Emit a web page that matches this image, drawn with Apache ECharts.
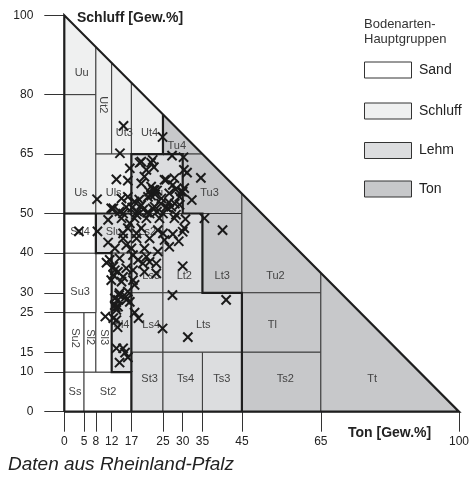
<!DOCTYPE html>
<html><head><meta charset="utf-8">
<script src="https://cdn.jsdelivr.net/npm/echarts@6/dist/echarts.min.js"></script>
<style>html,body{margin:0;padding:0;background:#fff}#c{width:472px;height:481px}</style>
</head><body><div id="c"></div>
<script>
// ---- data ----
const xTicks = [0, 5, 8, 12, 17, 25, 30, 35, 45, 65, 100];
const yTicks = [0, 10, 15, 25, 30, 40, 50, 65, 80, 100];
const groups = ['Sand', 'Schluff', 'Lehm', 'Ton'];
const groupColors = ['#ffffff', '#eff0f0', '#dcdddf', '#c7c8ca'];

const classNames = ['Ss','St2','Su2','Sl2','Sl3','Su3','Su4',
  'Us','Uu','Ut2','Ut3','Ut4','Uls',
  'Slu','Sl4','Ls2','Ls3','Ls4','St3','Lt2','Lts','Ts4','Ts3','Lu',
  'Tu4','Tu3','Lt3','Tu2','Tl','Ts2','Tt'];
const classGroup = [0,0,0,0,0,0,0, 1,1,1,1,1,1, 2,2,2,2,2,2,2,2,2,2,2, 3,3,3,3,3,3,3];
const classPolygons = [
  [[0,0],[5,0],[5,10],[0,10]],
  [[5,0],[17,0],[17,10],[5,10]],
  [[0,10],[5,10],[5,25],[0,25]],
  [[5,10],[8,10],[8,25],[5,25]],
  [[8,10],[12,10],[12,40],[8,40]],
  [[0,25],[8,25],[8,40],[0,40]],
  [[0,40],[8,40],[8,50],[0,50]],
  [[0,50],[8,50],[8,80],[0,80]],
  [[0,80],[8,80],[8,92],[0,100]],
  [[8,65],[12,65],[12,88],[8,92]],
  [[12,65],[17,65],[17,83],[12,88]],
  [[17,65],[25,65],[25,75],[17,83]],
  [[8,50],[17,50],[17,65],[8,65]],
  [[8,40],[17,40],[17,50],[8,50]],
  [[12,10],[17,10],[17,40],[12,40]],
  [[17,40],[25,40],[25,50],[17,50]],
  [[17,30],[25,30],[25,40],[17,40]],
  [[17,15],[25,15],[25,30],[17,30]],
  [[17,0],[25,0],[25,15],[17,15]],
  [[25,30],[35,30],[35,50],[25,50]],
  [[25,15],[45,15],[45,30],[25,30]],
  [[25,0],[35,0],[35,15],[25,15]],
  [[35,0],[45,0],[45,15],[35,15]],
  [[17,50],[30,50],[30,65],[17,65]],
  [[25,65],[35,65],[25,75]],
  [[30,50],[45,50],[45,55],[35,65],[30,65]],
  [[35,30],[45,30],[45,50],[35,50]],
  [[45,30],[65,30],[65,35],[45,55]],
  [[45,15],[65,15],[65,30],[45,30]],
  [[45,0],[65,0],[65,15],[45,15]],
  [[65,0],[100,0],[65,35]]
];
const classLabelPos = [
  [2.7,5],[11.1,5],[2.7,18.6],[6.5,18.8],[10,18.8],[4,30.3],[4,45.3],
  [4.2,55.3],[4.4,85.5],[9.9,77.4],[15.2,70.3],[21.6,70.3],[12.5,55.3],
  [12.5,45.3],[14.5,21.8],[21,45.3],[22,34.2],[22,21.8],[21.6,8.2],[30.4,34.2],[35.2,21.8],[30.7,8.2],[39.9,8.2],[23.5,55.3],
  [28.5,67.1],[36.8,55.3],[40,34.2],[53.5,34.2],[52.7,21.8],[56,8.2],[78,8.2]
];
const rotatedClasses = ['Ut2','Su2','Sl2','Sl3'];
const groupBoundaries = [
  [[0,0],[100,0],[0,100],[0,0]],
  [[0,50],[8,50]],
  [[8,50],[8,40],[12,40],[12,10],[17,10],[17,0]],
  [[17,10],[17,40]],
  [[8,50],[17,50],[17,65],[25,65],[25,75]],
  [[25,65],[30,65],[30,50],[35,50],[35,30],[45,30],[45,0]]
];

const sampleTon = [
  // Schluff >= 50
  15.0,24.9,14.1,27.3,30.2,19.5,22.4,16.6,20.8,22.7,30.3,34.6,13.2,16.1,20.3,25.4,27.9,31.1,30.4,28.2,
  22.0,22.9,8.3,16.1,14.5,17.8,21.2,24.6,26.6,32.3,29.2,30.0,19.5,22.9,25.8,11.9,15.7,12.4,22.4,26.2,
  27.1,19.1,22.0,19.5,25.8,27.5,29.6,21.5,22.5,23.0,22.0,23.5,18.5,20.0,21.0,23.5,24.5,19.0,17.2,26.5,
  28.0,14.0,29.2,14.9,18.3,21.6,25.0,28.3,
  // Schluff 30-50
  3.7,8.4,11.1,14.5,17.8,20.8,24.1,27.9,30.7,30.4,16.1,19.5,23.7,27.5,11.1,14.9,18.3,21.6,25.4,29.0,
  12.8,17.0,20.3,23.7,11.5,14.0,18.7,21.6,12.8,15.7,20.3,23.3,30.0,11.9,14.5,17.4,10.7,35.5,40.1,12.4,
  13.6,17.8,16.6,14.9,18.3,25.0,30.0,26.6,15.7,17.4,20.8,14.9,17.4,19.9,23.3,12.4,
  // Schluff < 30
  13.9,13.6,15.7,12.8,10.4,17.8,18.8,13.2,13.5,27.4,24.9,31.3,13.2,15.4,16.1,14.0,41.0,15.6,16.6,13.0,
  14.0,12.8,13.6,16.1,13.2,12.4,14.9
];
const sampleSchluff = [
  72.1,69.3,65.2,64.6,64.2,63.1,63.5,61.4,61.0,61.7,61.0,59.0,58.6,58.3,59.3,58.5,58.9,60.3,56.4,56.1,
  56.8,55.9,53.6,54.2,53.8,53.0,54.2,53.8,55.1,53.4,54.2,55.5,52.1,51.7,51.6,51.3,51.6,51.3,51.3,51.3,
  51.7,62.8,62.8,57.6,58.5,57.2,55.5,55.5,56.0,54.8,54.5,55.8,50.5,51.0,50.2,50.5,52.5,53.5,51.5,52.8,
  52.5,50.5,52.2,50.0,49.7,50.0,50.0,49.7,
  45.5,45.5,48.4,48.8,48.8,48.8,48.8,48.8,48.6,46.3,46.3,46.3,45.8,44.8,42.7,43.7,43.7,43.7,43.3,43.0,
  41.2,41.2,41.2,40.4,38.3,38.7,38.3,37.8,35.7,36.2,35.3,34.9,36.7,33.2,32.8,33.2,37.6,48.8,45.8,36.6,
  35.3,32.0,47.5,45.0,45.0,45.0,45.4,41.6,42.0,39.5,39.1,34.0,35.7,37.4,37.4,34.5,
  29.4,28.2,28.2,26.9,24.0,25.0,23.6,23.1,21.3,29.4,21.0,18.8,16.0,14.9,13.7,12.4,28.2,29.0,27.7,26.3,
  29.9,28.6,26.5,30.3,25.7,23.6,16.0
];

// ---- chart ----
const FONT = '"Liberation Sans", Arial, sans-serif';
const chart = echarts.init(document.getElementById('c'), null, {renderer: 'canvas'});
const gridLeft = 64.3, gridTop = 15.3, gridRight = 472 - 461, gridBottom = 481 - 411.7;

const legendGraphics = [];
legendGraphics.push({type:'text', left: 364, top: 17, style:{text:'Bodenarten-\nHauptgruppen', font:'13px ' + FONT, fill:'#333', lineHeight:15}});
const legendCenters = [70, 111, 150.5, 189];
groups.forEach((g, i) => {
  legendGraphics.push({type:'rect', shape:{x:364.5, y:legendCenters[i]-8, width:47, height:16},
    style:{fill:groupColors[i], stroke:'#333', lineWidth:1}});
  legendGraphics.push({type:'text', x:419, y:legendCenters[i], style:{text:g, font:'14px ' + FONT, fill:'#222', verticalAlign:'middle'}});
});

const option = {
  animation: false,
  backgroundColor: '#fff',
  grid: {left: gridLeft, top: gridTop, right: gridRight, bottom: gridBottom},
  xAxis: {type:'value', min:0, max:100, axisLine:{show:false}, splitLine:{show:false},
    axisTick:{show:true, length:20, customValues:xTicks, lineStyle:{color:'#333', width:1}},
    axisLabel:{customValues:xTicks, margin:24, fontSize:12, color:'#222', fontFamily:FONT}},
  yAxis: {type:'value', min:0, max:100, axisLine:{show:false}, splitLine:{show:false},
    axisTick:{show:true, length:20, customValues:yTicks, lineStyle:{color:'#333', width:1}},
    axisLabel:{customValues:yTicks, margin:31, fontSize:12, color:'#222', fontFamily:FONT}},
  graphic: [
    {type:'text', left: 77, top: 11, style:{text:'Schluff [Gew.%]', font:'bold 14px ' + FONT, fill:'#222'}},
    {type:'text', left: 348, top: 426, style:{text:'Ton [Gew.%]', font:'bold 14px ' + FONT, fill:'#222'}},
    {type:'text', left: 8, top: 455, style:{text:'Daten aus Rheinland-Pfalz', font:'italic 19px ' + FONT, fill:'#222'}}
  ].concat(legendGraphics),
  series: [
    {type:'custom', name:'classes', data: classLabelPos, silent:true, z:1,
      renderItem: (params, api) => {
        const i = params.dataIndex;
        const pts = classPolygons[i].map(p => api.coord(p));
        return {type:'polygon', shape:{points:pts}, style:{fill:groupColors[classGroup[i]], stroke:'#3c3c3c', lineWidth:1}};
      }},
    {type:'custom', name:'labels', data: classLabelPos, silent:true, z:2,
      renderItem: (params, api) => {
        const i = params.dataIndex;
        const c = api.coord([api.value(0), api.value(1)]);
        const rot = rotatedClasses.indexOf(classNames[i]) >= 0 ? -Math.PI/2 : 0;
        return {type:'text', x:c[0], y:c[1], rotation:rot,
          style:{text:classNames[i], font:'11px ' + FONT, fill:'#444', align:'center', verticalAlign:'middle'}};
      }},
    {type:'custom', name:'boundaries', data: groupBoundaries.map((b, i) => b[0]), silent:true, z:3,
      renderItem: (params, api) => {
        const pts = groupBoundaries[params.dataIndex].map(p => api.coord(p));
        return {type:'polyline', shape:{points:pts}, style:{stroke:'#1e1e1e', lineWidth:2.2, fill:null, lineJoin:'miter'}};
      }},
    {type:'custom', name:'samples', data: sampleTon.map((t, i) => [t, sampleSchluff[i]]), silent:true, z:4,
      renderItem: (params, api) => {
        const c = api.coord([api.value(0), api.value(1)]);
        const s = 4.6;
        return {type:'group', children:[
          {type:'line', shape:{x1:c[0]-s, y1:c[1]-s, x2:c[0]+s, y2:c[1]+s}, style:{stroke:'#1a1a1a', lineWidth:2}},
          {type:'line', shape:{x1:c[0]-s, y1:c[1]+s, x2:c[0]+s, y2:c[1]-s}, style:{stroke:'#1a1a1a', lineWidth:2}}
        ]};
      }}
  ]
};
chart.setOption(option);
</script></body></html>
